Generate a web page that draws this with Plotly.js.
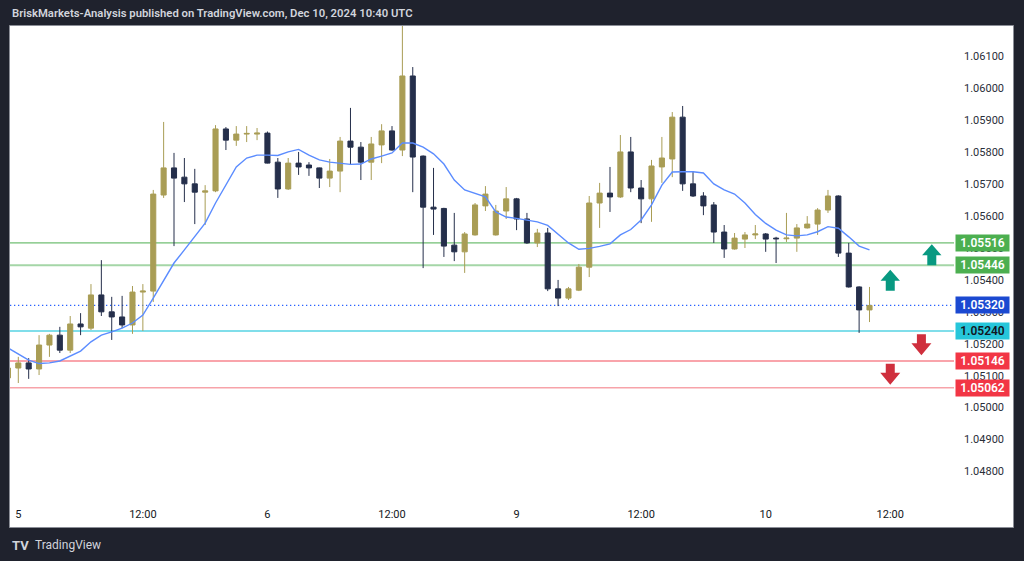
<!DOCTYPE html>
<html>
<head>
<meta charset="utf-8">
<script src="https://cdn.plot.ly/plotly-3.0.1.min.js"></script>
<style>
  html, body { margin: 0; padding: 0; background: #1f222d; }
  #chart { width: 1024px; height: 561px; }
</style>
</head>
<body>
<div id="chart"></div>
<script>
// ---- Data: H1 candles, Dec 4 23:00 .. Dec 10 10:00 (UTC) ----
// trading sessions shown (day label, first hour, last hour)
const sessions = [
  ["Dec 4", 23, 23],
  ["Dec 5", 0, 23],
  ["Dec 6", 0, 21],
  ["Dec 8", 22, 23],
  ["Dec 9", 0, 23],
  ["Dec 10", 0, 10]
];

const openP = [1.05093,
  1.05124,1.05140,1.05121,1.05196,1.05227,1.05180,1.05262,1.05249,1.05353,1.05300,
  1.05284,1.05259,1.05362,1.05365,1.05666,1.05751,1.05722,1.05701,1.05675,1.05679,
  1.05873,1.05838,1.05857,1.05857,1.05860,1.05769,1.05685,1.05766,1.05760,1.05751,
  1.05719,1.05741,1.05835,1.05816,1.05769,1.05823,1.05867,1.05807,1.06039,1.05788,
  1.05628,1.05624,1.05509,1.05488,1.05541,1.05632,1.05541,1.05616,1.05654,1.05591,
  1.05516,1.05547,1.05372,1.05343,1.05368,1.05440,1.05641,1.05672,1.05660,1.05801,
  1.05688,1.05654,1.05754,1.05779,1.05910,1.05701,1.05663,1.05635,1.05550,1.05497,
  1.05528,1.05541,1.05544,1.05531,1.05529,1.05531,1.05563,1.05575,1.05619,1.05663,
  1.05484,1.05378,1.05306];

const highP = [1.05130,
  1.05159,1.05155,1.05227,1.05231,1.05253,1.05287,1.05296,1.05387,1.05462,1.05347,
  1.05350,1.05381,1.05387,1.05682,1.05895,1.05798,1.05782,1.05748,1.05697,1.05885,
  1.05879,1.05882,1.05882,1.05876,1.05865,1.05782,1.05782,1.05801,1.05769,1.05752,
  1.05779,1.05848,1.05939,1.05832,1.05848,1.05888,1.05882,1.06208,1.06067,1.05790,
  1.05751,1.05626,1.05610,1.05550,1.05641,1.05694,1.05635,1.05691,1.05657,1.05610,
  1.05560,1.05563,1.05400,1.05378,1.05450,1.05663,1.05704,1.05754,1.05854,1.05848,
  1.05713,1.05776,1.05848,1.05926,1.05945,1.05741,1.05675,1.05644,1.05572,1.05547,
  1.05550,1.05572,1.05547,1.05535,1.05610,1.05575,1.05600,1.05625,1.05682,1.05665,
  1.05516,1.05380,1.05378];

const lowP = [1.05083,
  1.05077,1.05090,1.05102,1.05159,1.05171,1.05171,1.05227,1.05243,1.05287,1.05212,
  1.05249,1.05231,1.05240,1.05331,1.05657,1.05506,1.05644,1.05575,1.05572,1.05675,
  1.05807,1.05820,1.05832,1.05838,1.05765,1.05657,1.05682,1.05729,1.05726,1.05688,
  1.05691,1.05675,1.05760,1.05713,1.05713,1.05766,1.05805,1.05788,1.05675,1.05437,
  1.05541,1.05472,1.05459,1.05422,1.05539,1.05616,1.05539,1.05591,1.05556,1.05513,
  1.05503,1.05365,1.05318,1.05337,1.05365,1.05409,1.05563,1.05613,1.05657,1.05675,
  1.05578,1.05582,1.05704,1.05722,1.05679,1.05660,1.05603,1.05516,1.05469,1.05495,
  1.05500,1.05528,1.05488,1.05453,1.05519,1.05488,1.05561,1.05541,1.05610,1.05472,
  1.05376,1.05234,1.05268];

const closeP = [1.05124,
  1.05140,1.05121,1.05196,1.05227,1.05180,1.05262,1.05253,1.05353,1.05300,1.05284,
  1.05259,1.05362,1.05365,1.05669,1.05751,1.05719,1.05701,1.05675,1.05679,1.05873,
  1.05838,1.05857,1.05859,1.05860,1.05766,1.05685,1.05766,1.05754,1.05751,1.05719,
  1.05741,1.05835,1.05816,1.05769,1.05826,1.05867,1.05807,1.06039,1.05785,1.05628,
  1.05622,1.05506,1.05488,1.05544,1.05635,1.05669,1.05616,1.05654,1.05591,1.05516,
  1.05547,1.05372,1.05343,1.05372,1.05440,1.05641,1.05672,1.05660,1.05801,1.05688,
  1.05654,1.05757,1.05782,1.05910,1.05701,1.05663,1.05632,1.05550,1.05497,1.05531,
  1.05541,1.05544,1.05528,1.05529,1.05531,1.05563,1.05575,1.05619,1.05663,1.05484,
  1.05378,1.05306,1.05320];

// moving average line
const maLine = [1.05187,
  1.05169,1.05149,1.05138,1.05140,1.05146,1.05162,1.05177,1.05206,1.05227,1.05237,
  1.05249,1.05265,1.05290,1.05343,1.05400,1.05453,1.05494,1.05535,1.05578,1.05641,
  1.05697,1.05754,1.05782,1.05791,1.05791,1.05790,1.05801,1.05809,1.05791,1.05776,
  1.05769,1.05765,1.05762,1.05763,1.05779,1.05788,1.05798,1.05829,1.05829,1.05816,
  1.05795,1.05763,1.05713,1.05682,1.05671,1.05660,1.05613,1.05597,1.05593,1.05588,
  1.05582,1.05571,1.05542,1.05516,1.05496,1.05499,1.05505,1.05513,1.05541,1.05558,
  1.05588,1.05635,1.05697,1.05738,1.05739,1.05739,1.05735,1.05701,1.05682,1.05669,
  1.05641,1.05605,1.05577,1.05556,1.05541,1.05538,1.05541,1.05551,1.05567,1.05562,
  1.05535,1.05506,1.05494];

// horizontal levels
const levelPrices = [1.05516, 1.05446, 1.05240, 1.05146, 1.05062];
const levelLineColors = ["#4caf50", "#a5d6a7", "#80deea", "#f7868f", "#f7a3a9"];
const levelLineWidths = [1, 2, 2, 1.5, 1.5];
const levelBoxColors = ["#4caf50", "#4caf50", "#26c6da", "#f23645", "#f23645"];
const levelTextColors = ["#ffffff", "#ffffff", "#131722", "#ffffff", "#ffffff"];
const lastPrice = 1.05320;

// axis ticks
const priceTicks = [1.048,1.049,1.050,1.051,1.052,1.053,1.054,1.055,1.056,1.057,1.058,1.059,1.060,1.061];
const timeTickBars = [0, 12, 24, 36, 48, 60, 72, 84];
const timeTickText = ["5", "12:00", "6", "12:00", "9", "12:00", "10", "12:00"];

// arrow drawings: [bar, price anchor, direction]
const arrows = [
  [88, 1.05446, "up"],
  [84, 1.05366, "up"],
  [87, 1.05230, "down"],
  [84, 1.05137, "down"]
];

// ---- build bar positions (bar index, Dec 5 00:00 = 0) ----
const barX = [];
let k = -1;
sessions.forEach(s => { for (let h = s[1]; h <= s[2]; h++) { barX.push(k); k++; } });

const FONT = "Roboto, 'Liberation Sans', Arial, sans-serif";
const GOLD = "#a99d55";
const NAVY = "#252f4b";

const traces = [
  {
    type: "candlestick",
    x: barX, open: openP, high: highP, low: lowP, close: closeP,
    increasing: { line: { color: GOLD, width: 1 }, fillcolor: GOLD },
    decreasing: { line: { color: NAVY, width: 1 }, fillcolor: NAVY },
    whiskerwidth: 0,
    hoverinfo: "skip",
    showlegend: false
  },
  {
    type: "scatter", mode: "lines",
    x: barX, y: maLine,
    line: { color: "#5b8cff", width: 1.4 },
    hoverinfo: "skip", showlegend: false
  }
];

// geometry of plot area in px
const W = 1024, H = 561;
const mL = 10, mR = 70, mT = 26, mB = 61;
const plotW = W - mL - mR, plotH = H - mT - mB;
const px2paperX = p => (p - mL) / plotW;
const px2paperY = p => (H - mB - p) / plotH;

const shapes = [];
// white panel
shapes.push({
  type: "rect", xref: "paper", yref: "paper", layer: "below",
  x0: px2paperX(9.5), x1: px2paperX(1013.5), y0: px2paperY(527.5), y1: px2paperY(25.5),
  fillcolor: "#ffffff", line: { color: "#8b8e97", width: 1 }
});
// level lines
levelPrices.forEach((p, i) => {
  shapes.push({
    type: "line", xref: "paper", yref: "y", x0: 0, x1: 1, y0: p, y1: p,
    line: { color: levelLineColors[i], width: levelLineWidths[i] }, layer: "below"
  });
});
// last price dotted line
shapes.push({
  type: "line", xref: "paper", yref: "y", x0: 0, x1: 1, y0: lastPrice, y1: lastPrice,
  line: { color: "#2962ff", width: 1.3, dash: "1.3px,2.7px" }, layer: "below"
});
// arrows
arrows.forEach(a => {
  const up = a[2] === "up";
  const path = up
    ? "M -4.5 0 L 4.5 0 L 4.5 10 L 9.7 10 L 0 21 L -9.7 10 L -4.5 10 Z"
    : "M -4.5 0 L 4.5 0 L 4.5 -9 L 10 -9 L 0 -21 L -10 -9 L -4.5 -9 Z";
  shapes.push({
    type: "path", xref: "x", yref: "y",
    xsizemode: "pixel", ysizemode: "pixel",
    xanchor: a[0], yanchor: a[1], path: path,
    fillcolor: up ? "#089981" : "#cf2f3d", line: { width: 0 }
  });
});

const annotations = [];
// header
annotations.push({
  xref: "paper", yref: "paper", x: px2paperX(10), y: px2paperY(13),
  xanchor: "left", yanchor: "middle", showarrow: false,
  text: "BriskMarkets-Analysis published on TradingView.com, Dec 10, 2024 10:40 UTC",
  font: { family: FONT, size: 11.3, color: "#d1d4dc", weight: 600 }
});
// footer logo
annotations.push({
  xref: "paper", yref: "paper", x: px2paperX(10), y: px2paperY(545),
  xanchor: "left", yanchor: "middle", showarrow: false,
  text: "<b>TV</b>", font: { family: FONT, size: 13, color: "#d1d4dc" }
});
annotations.push({
  xref: "paper", yref: "paper", x: px2paperX(33), y: px2paperY(545),
  xanchor: "left", yanchor: "middle", showarrow: false,
  text: "TradingView", font: { family: FONT, size: 12, color: "#d1d4dc" }
});
// price boxes
function priceBox(p, bg, fg) {
  return {
    xref: "paper", yref: "y", x: px2paperX(955), y: p,
    xanchor: "left", yanchor: "middle", showarrow: false,
    text: p.toFixed(5), width: 51, height: 14, borderpad: 1,
    bgcolor: bg, font: { family: FONT, size: 12, color: fg, weight: 600 }
  };
}
levelPrices.forEach((p, i) => annotations.push(priceBox(p, levelBoxColors[i], levelTextColors[i])));
annotations.push(priceBox(lastPrice, "#1b49d1", "#ffffff"));

const layout = {
  width: W, height: H,
  margin: { l: mL, r: mR, t: mT, b: mB, pad: 0 },
  paper_bgcolor: "#1f222d",
  plot_bgcolor: "#ffffff",
  showlegend: false,
  font: { family: FONT, size: 11, color: "#131722" },
  xaxis: {
    type: "linear", range: [-0.80, 90.14], fixedrange: true,
    rangeslider: { visible: false },
    showgrid: false, zeroline: false, showline: false, ticks: "",
    tickvals: timeTickBars, ticktext: timeTickText,
    ticklabelstandoff: 6,
    tickfont: { family: FONT, size: 11, color: "#131722" }
  },
  yaxis: {
    side: "right", range: [1.047105, 1.061956], fixedrange: true,
    showgrid: false, zeroline: false, showline: false, ticks: "",
    tickvals: priceTicks, tickformat: ".5f",
    ticklabelstandoff: 9,
    tickfont: { family: FONT, size: 11, color: "#2a2e39" }
  },
  shapes: shapes,
  annotations: annotations
};

Plotly.newPlot("chart", traces, layout, { displayModeBar: false, staticPlot: true });
</script>
</body>
</html>
